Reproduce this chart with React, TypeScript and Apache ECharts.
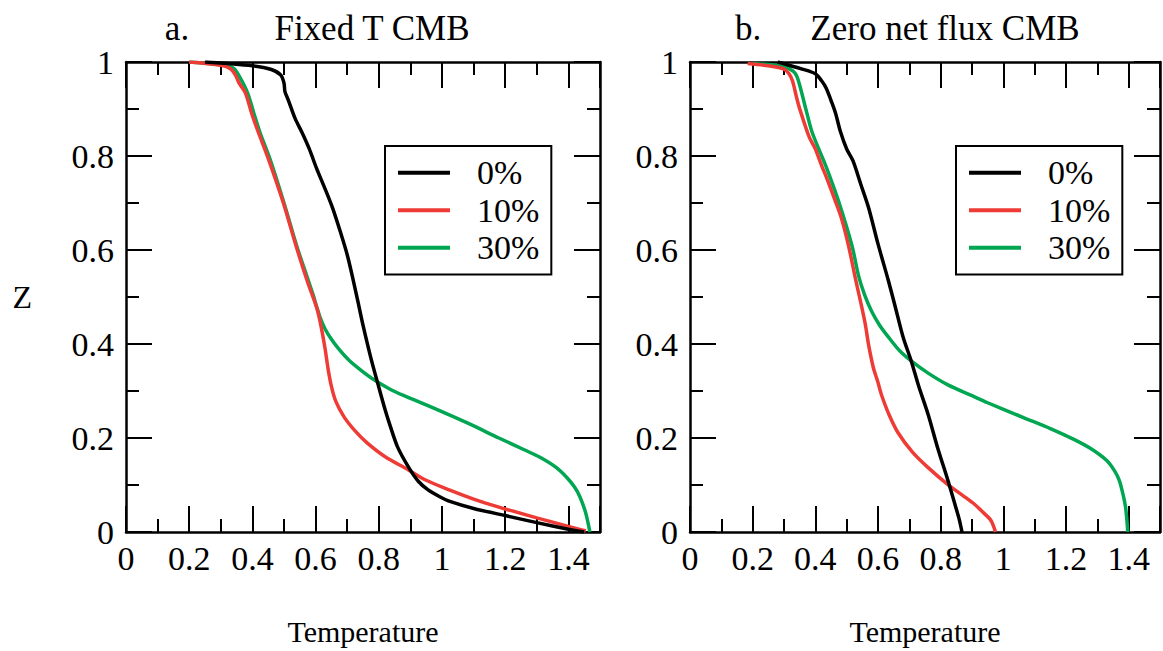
import React, { useEffect, useRef } from "react";
import * as echarts from "echarts";

// ---------- data ----------
const seriesNames = ["0%", "10%", "30%"];
const seriesColors = ["#000000", "#ef3b36", "#00a651"];
const xTickLabels = ["0", "0.2", "0.4", "0.6", "0.8", "1", "1.2", "1.4"];
const panelTitlesA = ["a.", "Fixed T CMB"];
const panelTitlesB = ["b.", "Zero net flux CMB"];

// Panel a: Fixed T CMB  ([Temperature, Z])
const fixed0: number[][] = [
  [0.25, 1.0], [0.4, 0.992], [0.46, 0.984], [0.49, 0.972], [0.5, 0.955], [0.503, 0.937],
  [0.513, 0.92], [0.535, 0.88], [0.557, 0.85], [0.58, 0.815], [0.604, 0.772], [0.63, 0.73],
  [0.655, 0.687], [0.68, 0.635], [0.7, 0.59], [0.716, 0.545], [0.734, 0.49], [0.75, 0.44],
  [0.775, 0.37], [0.798, 0.313], [0.82, 0.26], [0.835, 0.228], [0.86, 0.18], [0.895, 0.137],
  [0.925, 0.108], [0.955, 0.09], [0.99, 0.076], [1.025, 0.065], [1.1, 0.05], [1.2, 0.035],
  [1.3, 0.02], [1.4, 0.006], [1.45, 0.0],
];
const fixed10: number[][] = [
  [0.2, 1.0], [0.3, 0.993], [0.332, 0.985], [0.348, 0.97], [0.358, 0.955], [0.378, 0.934],
  [0.398, 0.89], [0.419, 0.85], [0.45, 0.795], [0.498, 0.7], [0.538, 0.609], [0.573, 0.535],
  [0.604, 0.476], [0.618, 0.435], [0.63, 0.39], [0.64, 0.345], [0.65, 0.31], [0.664, 0.278],
  [0.69, 0.245], [0.725, 0.215], [0.762, 0.19], [0.82, 0.16], [0.889, 0.134], [0.95, 0.11],
  [1.025, 0.089], [1.1, 0.07], [1.18, 0.053], [1.3, 0.03], [1.4, 0.012], [1.455, 0.002],
];
const fixed30: number[][] = [
  [0.2, 1.0], [0.3, 0.994], [0.34, 0.987], [0.36, 0.968], [0.385, 0.934], [0.405, 0.89],
  [0.424, 0.85], [0.456, 0.793], [0.5, 0.7], [0.54, 0.609], [0.577, 0.535], [0.592, 0.505],
  [0.604, 0.478], [0.615, 0.455], [0.63, 0.432], [0.65, 0.41], [0.675, 0.388], [0.705, 0.366],
  [0.74, 0.346], [0.78, 0.326], [0.83, 0.306], [0.88, 0.29], [0.972, 0.264], [1.08, 0.232],
  [1.18, 0.2], [1.26, 0.175], [1.31, 0.159], [1.36, 0.138], [1.395, 0.116], [1.42, 0.095],
  [1.437, 0.074], [1.455, 0.04], [1.468, 0.0],
];

// Panel b: Zero net flux CMB
const flux0: number[][] = [
  [0.28, 1.0], [0.358, 0.985], [0.4, 0.975], [0.42, 0.96], [0.434, 0.945], [0.453, 0.913],
  [0.465, 0.89], [0.48, 0.852], [0.5, 0.815], [0.52, 0.79], [0.545, 0.74], [0.57, 0.69],
  [0.6, 0.613], [0.633, 0.535], [0.654, 0.482], [0.68, 0.415], [0.706, 0.364], [0.73, 0.31],
  [0.76, 0.25], [0.79, 0.18], [0.823, 0.11], [0.845, 0.06], [0.858, 0.03], [0.865, 0.01],
  [0.868, 0.0],
];
const flux10: number[][] = [
  [0.184, 0.997], [0.25, 0.992], [0.3, 0.985], [0.316, 0.975], [0.327, 0.96], [0.34, 0.925],
  [0.348, 0.905], [0.38, 0.841], [0.4, 0.815], [0.421, 0.778], [0.434, 0.757], [0.465, 0.702],
  [0.484, 0.666], [0.506, 0.609], [0.528, 0.539], [0.547, 0.482], [0.56, 0.44], [0.57, 0.398],
  [0.585, 0.35], [0.6, 0.318], [0.611, 0.292], [0.635, 0.25], [0.665, 0.21], [0.71, 0.17],
  [0.76, 0.137], [0.823, 0.101], [0.87, 0.078], [0.908, 0.059], [0.935, 0.042], [0.96, 0.025],
  [0.975, 0.0],
];
const flux30: number[][] = [
  [0.2, 0.997], [0.3, 0.99], [0.33, 0.98], [0.342, 0.968], [0.354, 0.941], [0.37, 0.899],
  [0.39, 0.85], [0.434, 0.778], [0.475, 0.702], [0.517, 0.609], [0.538, 0.545], [0.557, 0.505],
  [0.58, 0.469], [0.605, 0.44], [0.633, 0.415], [0.67, 0.385], [0.706, 0.364], [0.76, 0.338],
  [0.823, 0.313], [0.9, 0.29], [0.95, 0.275], [1.066, 0.243], [1.15, 0.22], [1.225, 0.197],
  [1.28, 0.177], [1.33, 0.152], [1.355, 0.13], [1.37, 0.11], [1.382, 0.08], [1.39, 0.053],
  [1.395, 0.02], [1.397, 0.0],
];

const FONT = "Liberation Serif";

export default function App() {
  const ref = useRef<HTMLDivElement>(null);

  useEffect(() => {
    if (!ref.current) return;
    const chart = echarts.init(ref.current, null, { renderer: "svg" });

    const grids = [
      { left: 126, top: 62, width: 474, height: 473 },
      { left: 690, top: 62, width: 474, height: 473 },
    ];

    const axisLine = { show: true, onZero: false, lineStyle: { color: "#000", width: 2.5 } };
    const noLine = { show: false, onZero: false };
    const majorTick = { show: true, inside: true, length: 26, lineStyle: { color: "#000", width: 2 } };
    const minorTickX = { show: true, inside: true, length: 13, lineStyle: { color: "#000", width: 2 } };
    const minorTickY = { show: true, splitNumber: 2, length: 13, lineStyle: { color: "#000", width: 2 } };
    const xLabelFmt = (v: number) => {
      const l = xTickLabels.find((s) => Math.abs(parseFloat(s) - v) < 1e-6);
      return l === undefined ? "" : l;
    };

    const xAxes: any[] = [];
    const yAxes: any[] = [];
    [0, 1].forEach((gi) => {
      // bottom major (with labels)
      xAxes.push({
        type: "value", gridIndex: gi, position: "bottom", min: 0, max: 1.5, interval: 0.2,
        axisLine, axisTick: majorTick,
        axisLabel: { show: true, fontSize: 34, fontFamily: FONT, color: "#000", margin: 9, formatter: xLabelFmt },
        splitLine: { show: false },
        name: "Temperature", nameLocation: "middle", nameGap: 84,
        nameTextStyle: { fontSize: 30, fontFamily: FONT, color: "#000" },
      });
      // bottom minor
      xAxes.push({
        type: "value", gridIndex: gi, position: "bottom", min: 0, max: 1.5, interval: 0.1,
        axisLine: noLine, axisTick: minorTickX,
        axisLabel: { show: false }, splitLine: { show: false },
      });
      // top major
      xAxes.push({
        type: "value", gridIndex: gi, position: "top", min: 0, max: 1.5, interval: 0.2,
        axisLine, axisTick: majorTick,
        axisLabel: { show: false }, splitLine: { show: false },
      });
      // top minor
      xAxes.push({
        type: "value", gridIndex: gi, position: "top", min: 0, max: 1.5, interval: 0.1,
        axisLine: noLine, axisTick: minorTickX,
        axisLabel: { show: false }, splitLine: { show: false },
      });
      // left y
      yAxes.push({
        type: "value", gridIndex: gi, position: "left", min: 0, max: 1, interval: 0.2,
        axisLine, axisTick: majorTick, minorTick: minorTickY,
        axisLabel: { show: true, fontSize: 34, fontFamily: FONT, color: "#000", margin: 12 },
        splitLine: { show: false }, minorSplitLine: { show: false },
        name: gi === 0 ? "Z" : "", nameLocation: "middle", nameGap: 94, nameRotate: 0,
        nameTextStyle: { fontSize: 32, fontFamily: FONT, color: "#000" },
      });
      // right y
      yAxes.push({
        type: "value", gridIndex: gi, position: "right", min: 0, max: 1, interval: 0.2,
        axisLine, axisTick: majorTick, minorTick: minorTickY,
        axisLabel: { show: false },
        splitLine: { show: false }, minorSplitLine: { show: false },
      });
    });

    const panels = [
      [fixed0, fixed10, fixed30],
      [flux0, flux10, flux30],
    ];
    const series: any[] = [];
    panels.forEach((sets, gi) => {
      sets.forEach((d, si) => {
        series.push({
          type: "line",
          name: seriesNames[si],
          xAxisIndex: gi * 4,
          yAxisIndex: gi * 2,
          data: d,
          symbol: "none",
          showSymbol: false,
          smooth: 0.3,
          lineStyle: { color: seriesColors[si], width: 3.5 },
          itemStyle: { color: seriesColors[si] },
          z: 10 - si,
        });
      });
    });

    const legendBase = {
      data: seriesNames.map((n) => ({ name: n, icon: "rect" })),
      orient: "vertical",
      top: 146,
      itemWidth: 52,
      itemHeight: 4,
      itemGap: 0,
      borderColor: "#000",
      borderWidth: 2,
      padding: [8, 12, 8, 13],
      backgroundColor: "#fff",
      textStyle: { fontSize: 34, fontFamily: FONT, color: "#000", lineHeight: 37.5, padding: [0, 0, 0, 22] },
      selectedMode: false,
    };

    const titleText = (x: number, text: string) => ({
      type: "text",
      x,
      y: 28,
      style: {
        text,
        fontSize: 35,
        fontFamily: FONT,
        fill: "#000",
        align: "center",
        verticalAlign: "middle",
      },
    });

    chart.setOption({
      animation: false,
      backgroundColor: "#fff",
      grid: grids,
      xAxis: xAxes,
      yAxis: yAxes,
      series,
      legend: [
        { ...legendBase, left: 385 },
        { ...legendBase, left: 956 },
      ],
      graphic: [
        titleText(177, panelTitlesA[0]),
        titleText(372, panelTitlesA[1]),
        titleText(748, panelTitlesB[0]),
        titleText(945, panelTitlesB[1]),
      ],
    });

    return () => chart.dispose();
  }, []);

  return (
    <div
      ref={ref}
      style={{ position: "fixed", left: 0, top: 0, width: 1163, height: 651, background: "#fff" }}
    />
  );
}
